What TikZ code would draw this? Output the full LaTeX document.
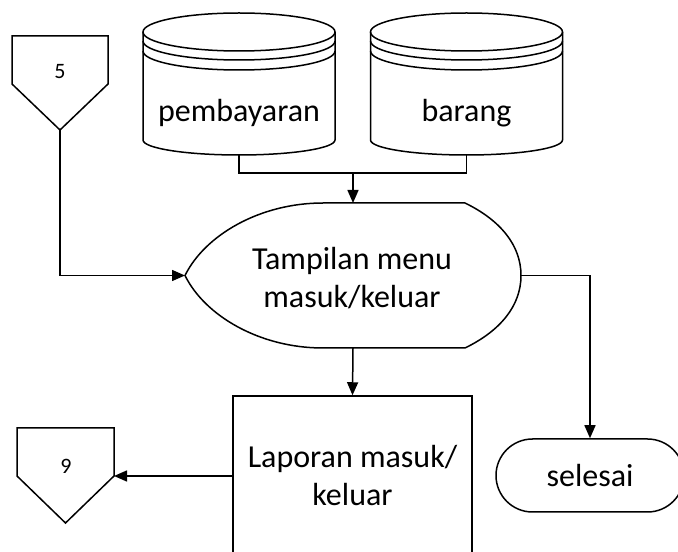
\documentclass[tikz,border=0pt]{standalone}
\usepackage{fontspec}
\setmainfont{Carlito}
\usepackage{tikz}
\usetikzlibrary{arrows.meta}

% cylinder (data store) with a double rim
\newcommand{\dbdisk}[3]{%
  \draw (#2,520) ellipse [x radius=96, y radius=19];
  \draw (#2-96,511) arc [start angle=180, end angle=360, x radius=96, y radius=19];
  \draw (#2-96,501) arc [start angle=180, end angle=360, x radius=96, y radius=19];
  \draw (#2-96,520) -- (#2-96,412) arc [start angle=180, end angle=360, x radius=96, y radius=15] -- (#2+96,520);
  \node[txt] (#1) at (#2,439) {#3};
  \coordinate (#1-bot) at (#2,397);
}

\begin{document}
\begin{tikzpicture}[x=1pt, y=1pt, line width=1.5pt,
  arr/.style={-{Triangle[width=11pt,length=13pt]}},
  txt/.style={font=\fontsize{32}{38}\selectfont, align=center},
  small/.style={font=\fontsize{22}{26}\selectfont},
  procbox/.style={draw, rectangle, minimum width=239pt, minimum height=160pt, txt},
  term/.style={draw, rectangle, rounded corners=36.5pt, minimum width=188pt, minimum height=73pt, txt}]
\useasboundingbox (0,0) rectangle (678,552);
\clip (0,0) rectangle (678,552);

% off-page connectors
\draw (12,516) -- (108,516) -- (108,468) -- (60,422) -- (12,468) -- cycle;
\node[small] (con5) at (60,480) {5};
\coordinate (con5-pt) at (60,422);
\draw (17,124) -- (114,124) -- (114,76) -- (65.5,29) -- (17,76) -- cycle;
\node[small] (con9) at (66,86) {9};
\coordinate (con9-e) at (114,76);

% data stores
\dbdisk{pemb}{239}{pembayaran}
\dbdisk{brg}{466.5}{barang}

% display
\draw (323,349) -- (465,349) .. controls (500,332) and (521,307) .. (521,276.5)
  .. controls (521,246) and (500,221) .. (465,204) -- (323,204)
  .. controls (260,204) and (205,236) .. (185,276.5)
  .. controls (205,317) and (260,349) .. (323,349) -- cycle;
\node[txt] (disp) at (352,274) {Tampilan menu\\masuk/keluar};
\coordinate (disp-n) at (353,349);
\coordinate (disp-s) at (353,204);
\coordinate (disp-w) at (185,276.5);
\coordinate (disp-e) at (521,276.5);

\node[procbox] (lap) at (352.5,76) {Laporan masuk/\\keluar};
\node[term] (sel) at (590,76.5) {selesai};

\coordinate (join) at (353,379);
\draw (pemb-bot) |- (join) -| (brg-bot);
\draw[arr] (join) -- (disp-n);
\draw[arr] (con5-pt) |- (disp-w);
\draw[arr] (disp-e) -| (sel.north);
\draw[arr] (disp-s) -- (lap.north);
\draw[arr] (lap.west) -- (con9-e);
\end{tikzpicture}
\end{document}
